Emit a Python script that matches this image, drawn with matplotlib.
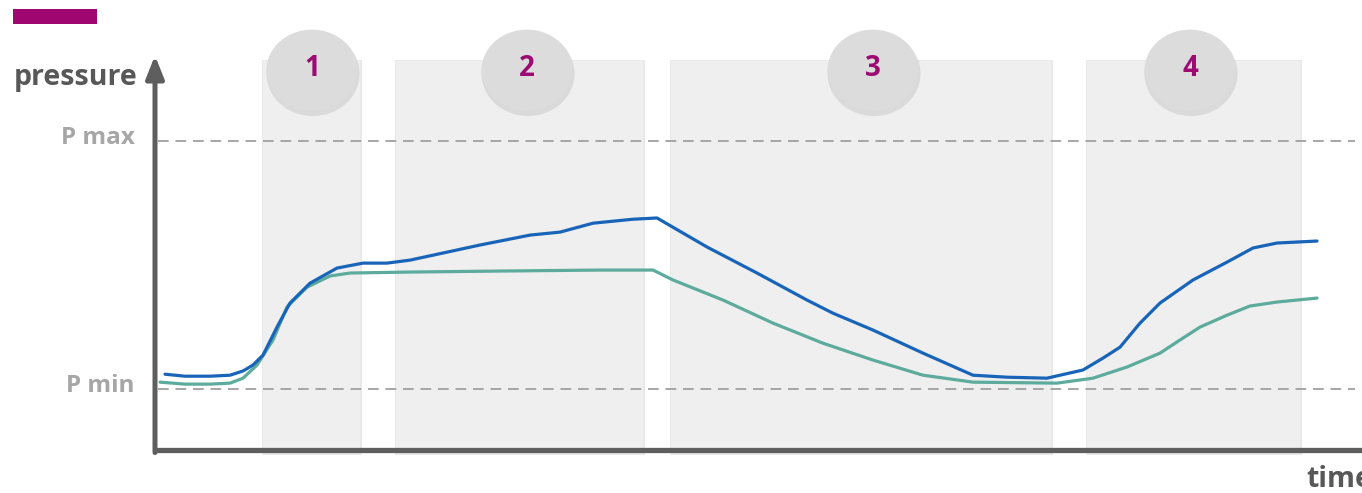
import matplotlib
matplotlib.use("Agg")
import matplotlib.pyplot as plt
from matplotlib.patches import Rectangle, Ellipse

# --- data -------------------------------------------------------------
# time in arbitrary units, pressure scaled so that P min = 0 and P max = 100
blue_t = [10, 30, 55, 75, 88, 98, 108, 122, 135, 155, 182, 208, 232, 255, 325, 375,
          405, 438, 478, 502, 552, 602, 652, 678, 718, 768, 818, 852, 892, 905,
          928, 948, 965, 985, 1005, 1038, 1072, 1098, 1122, 1162]
blue_p = [6.0, 5.2, 5.2, 5.6, 7.3, 9.7, 13.7, 25.0, 34.7, 42.7, 48.8, 50.8, 50.8, 52.0,
          58.1, 62.1, 63.3, 66.9, 68.5, 69.0, 57.3, 46.8, 35.9, 30.6, 23.8, 14.5,
          5.6, 4.8, 4.4, 5.6, 7.7, 12.5, 16.9, 26.6, 34.7, 44.0, 51.2, 56.9, 58.9, 59.7]

teal_t = [5, 30, 55, 75, 88, 102, 118, 132, 152, 175, 195, 255, 345, 445, 498, 518,
          568, 618, 668, 718, 768, 818, 902, 938, 972, 1005, 1025, 1045, 1072, 1095,
          1122, 1162]
teal_p = [2.8, 2.0, 2.0, 2.4, 4.4, 9.7, 19.8, 33.1, 41.1, 45.6, 46.8, 47.2, 47.6, 48.0,
          48.0, 44.0, 35.9, 26.6, 18.5, 11.7, 5.6, 2.8, 2.4, 4.4, 8.9, 14.5, 19.8, 25.0,
          29.8, 33.5, 35.1, 36.7]

p_levels = [100, 0]
p_labels = ["P max", "P min"]

phase_labels = ["1", "2", "3", "4"]
phase_start = [108, 241, 516, 932]
phase_end = [205, 488, 896, 1145]
badge_center = [157, 372, 718, 1035]

# --- styling ----------------------------------------------------------
FONT = "Open Sans"
AXIS_C = "#5e5e5e"
LEVEL_C = "#a6a6a6"
PURPLE = "#9c0b72"
BLUE = "#1864b8"
TEAL = "#5cab9c"
BAND_C = "#efefef"

fig = plt.figure(figsize=(13.62, 4.93), dpi=100)
ax = fig.add_axes([0, 0, 1, 1])
ax.set_xlim(-155, 1207)
ax.set_ylim(-41.9, 156.9)
ax.axis("off")

band_bottom, band_top = -25.8, 132.3

# phase bands
for s, e in zip(phase_start, phase_end):
    ax.add_patch(Rectangle((s - 1.5, band_bottom - 0.6), e - s + 3, band_top - band_bottom + 1.2,
                           facecolor="#e9e9e9", edgecolor="none", zorder=0.5))
    ax.add_patch(Rectangle((s, band_bottom), e - s, band_top - band_bottom,
                           facecolor=BAND_C, edgecolor="none", zorder=1))

# reference pressure levels
for lvl, lab in zip(p_levels, p_labels):
    ax.plot([3, 1200], [lvl, lvl], color=LEVEL_C, lw=1.4, ls=(0, (5.5, 3.5)), zorder=2)
    ax.text(-20, lvl + 1.2, lab, ha="right", va="center", fontsize=17.5,
            fontweight="bold", family=FONT, color=LEVEL_C)

# pressure curves
ax.plot(teal_t, teal_p, color=TEAL, lw=2.3, solid_joinstyle="round",
        solid_capstyle="round", zorder=4)
ax.plot(blue_t, blue_p, color=BLUE, lw=2.3, solid_joinstyle="round",
        solid_capstyle="round", zorder=5)

# axes with arrow
ax.annotate("", xy=(0, 134.5), xytext=(0, -25.6),
            arrowprops=dict(arrowstyle="-|>,head_length=0.75,head_width=0.3",
                            lw=3.6, color=AXIS_C, shrinkA=0, shrinkB=0,
                            mutation_scale=18), zorder=6)
ax.plot([-2, 1207], [-24.6, -24.6], color=AXIS_C, lw=3.8, solid_capstyle="butt", zorder=6)

# phase badges
bw, bh = 91, 32.7
for lab, c in zip(phase_labels, badge_center):
    ax.add_patch(Ellipse((c + 1, 127.2), bw + 2, bh + 1.5, facecolor="#c6c6c6",
                         edgecolor="none", alpha=0.5, zorder=6.5))
    ax.add_patch(Ellipse((c, 128.6), bw, bh, facecolor="#dcdcdc",
                         edgecolor="none", zorder=7))
    ax.text(c, 129.2, lab, ha="center", va="center", fontsize=20, fontweight="bold",
            family=FONT, color=PURPLE, zorder=8)

# titles
ax.add_patch(Rectangle((-142, 147.2), 84, 6.0, facecolor="#a0066f", edgecolor="none"))
ax.text(-141, 122.6, "pressure", ha="left", va="baseline", fontsize=20.5,
        fontweight="bold", family=FONT, color="#585858")
ax.text(1151, -39.5, "time", ha="left", va="baseline", fontsize=20.5,
        fontweight="bold", family=FONT, color="#585858", clip_on=False)

fig.savefig("out.png", dpi=100)
